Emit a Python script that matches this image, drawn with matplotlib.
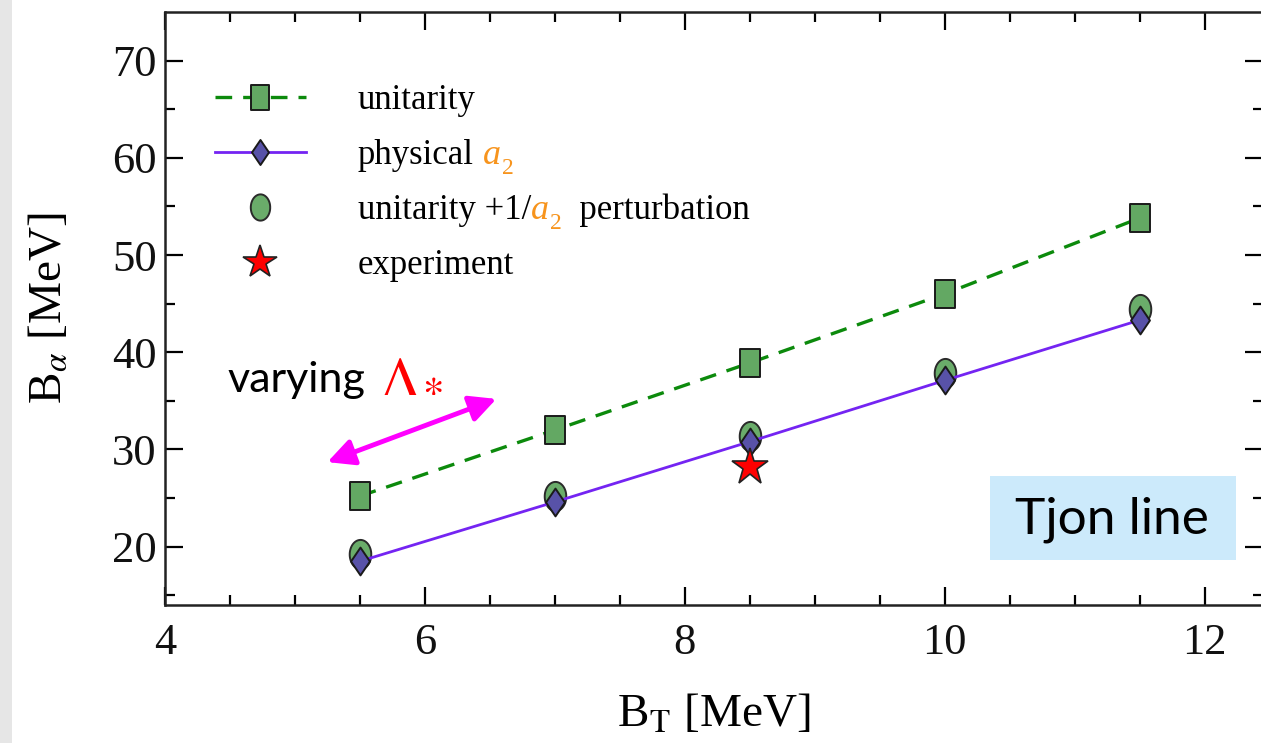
import numpy as np
import matplotlib
matplotlib.use("Agg")
import matplotlib.pyplot as plt
from matplotlib.path import Path
from matplotlib.patches import Rectangle

# ---- data ----
B_T = [5.5, 7.0, 8.5, 10.0, 11.5]
unitarity = [25.2, 32.0, 38.9, 46.0, 53.8]
physical_a2 = [18.5, 24.6, 30.8, 37.1, 43.3]
perturbation = [19.2, 25.2, 31.4, 37.9, 44.5]
exp_BT = [8.5]
exp_Balpha = [28.2]
xticks = [4, 6, 8, 10, 12]
yticks = [20, 30, 40, 50, 60, 70]

plt.rcParams['mathtext.fontset'] = 'stix'
SERIF = ['Liberation Serif', 'DejaVu Serif']

fig = plt.figure(figsize=(12.61, 7.43), dpi=100)
W, H = 1261, 743
fig.patches.append(Rectangle((0, 0), 12 / W, 1, transform=fig.transFigure,
                             facecolor='#e6e6e6', edgecolor='none', zorder=0))

ax = fig.add_axes([165 / W, (H - 605) / H, (1263 - 165) / W, (605 - 12) / H])
ax.set_xlim(4, 12.45)
ax.set_ylim(14, 75)

# stretched marker shapes (the picture is stretched vertically)
sq = Path([(-0.72, -1), (0.72, -1), (0.72, 1), (-0.72, 1), (-0.72, -1)],
          [Path.MOVETO, Path.LINETO, Path.LINETO, Path.LINETO, Path.CLOSEPOLY])
dia = Path([(0, -1), (0.68, 0), (0, 1), (-0.68, 0), (0, -1)],
           [Path.MOVETO, Path.LINETO, Path.LINETO, Path.LINETO, Path.CLOSEPOLY])
t = np.linspace(0, 2 * np.pi, 60)
circ = Path(np.column_stack([0.74 * np.cos(t), np.sin(t)]))

green_line = '#0c8a0c'
green_fill = '#63a863'
purple_line = '#7424f2'
purple_fill = '#5852a8'

l1, = ax.plot(B_T, unitarity, color=green_line, lw=2.4, dashes=(5, 3.3),
              marker=sq, markersize=20, markerfacecolor=green_fill,
              markeredgecolor='#1a1a1a', markeredgewidth=1.4, zorder=3)
l3, = ax.plot(B_T, perturbation, linestyle='none', marker=circ, markersize=21,
              markerfacecolor='#6aac6a', markeredgecolor='#2a2a2a',
              markeredgewidth=1.4, zorder=3)
l2, = ax.plot(B_T, physical_a2, color=purple_line, lw=2.0,
              marker=dia, markersize=20, markerfacecolor=purple_fill,
              markeredgecolor='#1a1a1a', markeredgewidth=1.4, zorder=4)
l4, = ax.plot(exp_BT, exp_Balpha, linestyle='none', marker='*', markersize=28,
              markerfacecolor='#ff0000', markeredgecolor='#222222',
              markeredgewidth=1.2, zorder=5)

# ticks
ax.set_xticks(xticks)
ax.set_yticks(yticks)
ax.set_xticks(np.arange(4.5, 12.45, 0.5), minor=True)
ax.set_yticks(np.arange(15, 75, 5), minor=True)
ax.tick_params(which='both', direction='in', top=True, right=True, width=1.6)
ax.tick_params(which='major', length=13)
ax.tick_params(which='minor', length=7)
ax.tick_params(axis='y', pad=6)
ax.tick_params(axis='x', pad=13)
for lab in ax.get_xticklabels() + ax.get_yticklabels():
    lab.set_fontfamily(SERIF)
    lab.set_fontsize(32)
    lab.set_color('#111111')
for s in ax.spines.values():
    s.set_linewidth(1.8)
    s.set_color('#222222')

ax.set_xlabel(r'B$_\mathrm{T}$ [MeV]', fontsize=34, family=SERIF, labelpad=22)
ax.set_ylabel(r'B$_\alpha$ [MeV]', fontsize=34, family=SERIF, labelpad=30)

# legend
LFS = 25
leg = ax.legend([l1, l2, l3, l4],
                ['unitarity', 'physical', 'unitarity +1/', 'experiment'],
                loc='upper left', bbox_to_anchor=(0, 0.963),
                frameon=False, prop={'family': SERIF, 'size': LFS},
                handlelength=2.6, handletextpad=1.5, labelspacing=0.63,
                borderaxespad=0.6, borderpad=0.85, numpoints=1, markerscale=0.9)
leg.set_zorder(6)
texts = leg.get_texts()
orange = '#f7941d'


def a2_after(txt, lead):
    a = ax.annotate(lead + 'a', xy=(1, 0), xycoords=txt, va='bottom', ha='left',
                    fontsize=LFS + 1, family=SERIF, fontstyle='italic', color=orange,
                    zorder=7)
    s = ax.annotate('2', xy=(1, 0), xycoords=a, xytext=(1, -5),
                    textcoords='offset points', va='bottom', ha='left',
                    fontsize=17, family=SERIF, color=orange, zorder=7)
    return a, s


a2_after(texts[1], ' ')
a_, s_ = a2_after(texts[2], '')
ax.annotate('  perturbation', xy=(1, 0), xycoords=(s_, texts[2]), va='bottom',
            ha='left', fontsize=LFS, family=SERIF, color='black', zorder=7)

# varying Lambda annotation
vt = ax.text(4.48, 35.9, 'varying', fontsize=31, family=['Lato', 'DejaVu Sans'],
             color='black', va='baseline', ha='left')
ax.annotate(r'$\Lambda_{\!*}$', xy=(1, 0), xycoords=vt, xytext=(9, -4),
            textcoords='offset points', va='bottom', ha='left', fontsize=44,
            color='#ff0000')
ax.annotate('', xy=(5.25, 28.7), xytext=(6.55, 35.2),
            arrowprops=dict(arrowstyle='<|-|>', color='#ff00ff', lw=3.5,
                            mutation_scale=40, shrinkA=0, shrinkB=0))

# Tjon line box
fig.patches.append(Rectangle((990 / W, (H - 560) / H), 246 / W, 84 / H,
                             transform=fig.transFigure, facecolor='#cceafb',
                             edgecolor='none', zorder=5))
fig.text(1112 / W, (H - 520) / H, 'Tjon line', fontsize=37,
         family=['Lato', 'DejaVu Sans'], ha='center', va='center',
         color='black', zorder=6)

fig.savefig('out.png', dpi=100)
